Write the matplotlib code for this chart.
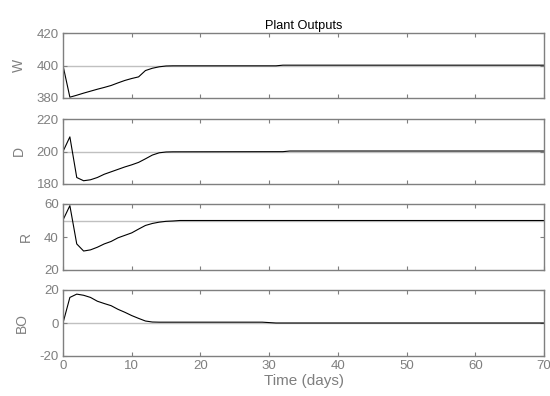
import matplotlib
matplotlib.use('Agg')
from matplotlib import pyplot as plt

plt.rcParams['font.family'] = ['Liberation Sans', 'DejaVu Sans']
plt.rcParams['axes.unicode_minus'] = False

# Plant output trajectories, read day by day
t_w = [0, 1, 2, 3, 4, 5, 6, 7, 8, 9, 10, 11, 12, 13, 14, 15, 16, 31, 32, 70]
w = [400, 380.5, 381.7, 383, 384.2, 385.4, 386.5, 387.7, 389.3, 390.8, 392, 393,
     396.9, 398.3, 399.2, 399.7, 399.8, 399.8, 400.2, 400.2]

t_d = [0, 1, 2, 3, 4, 5, 6, 7, 8, 9, 10, 11, 12, 13, 14, 15, 16, 32, 33, 70]
d = [200, 209, 184, 182, 182.6, 184, 186, 187.5, 189, 190.5, 191.8, 193.3,
     195.5, 197.8, 199.2, 199.7, 199.8, 199.9, 200.3, 200.3]

t_r = [0, 1, 2, 3, 4, 5, 6, 7, 8, 9, 10, 11, 12, 13, 14, 15, 16, 17, 70]
r = [50.3, 59, 35.8, 31.5, 32.2, 33.8, 35.8, 37.3, 39.5, 41, 42.5, 44.8,
     47, 48.2, 49, 49.5, 49.7, 50, 50]

t_bo = [0, 1, 2, 3, 4, 5, 6, 7, 8, 9, 10, 11, 12, 13, 14, 29, 31, 70]
bo = [0, 15.5, 17.5, 16.8, 15.5, 13.2, 11.8, 10.5, 8.3, 6.5, 4.5, 2.8,
      1.2, 0.6, 0.5, 0.5, 0, 0]

labels = ['W', 'D', 'R', 'BO']
setpoints = [400, 200, 50, 0]
yticks = [[380, 400, 420], [180, 200, 220], [20, 40, 60], [-20, 0, 20]]
series = [(t_w, w), (t_d, d), (t_r, r), (t_bo, bo)]

fig = plt.figure(figsize=(5.5, 3.96), dpi=100)
gray = '#7f7f7f'
tops = [33, 119, 204, 290]
bottoms = [98, 184, 270, 356]

for i in range(4):
    ax = fig.add_axes([63 / 550, 1 - bottoms[i] / 396, 481 / 550,
                       (bottoms[i] - tops[i]) / 396])
    ax.axhline(setpoints[i], color='#c0c0c0', lw=1.0, zorder=1)
    ax.plot(series[i][0], series[i][1], color='black', lw=0.8, zorder=2)
    ax.set_xlim(0, 70)
    ax.set_ylim(yticks[i][0], yticks[i][-1])
    ax.set_yticks(yticks[i])
    ax.set_xticks(range(0, 71, 10))
    ax.tick_params(direction='in', length=3, width=0.8, colors=gray,
                   labelsize=9.5, top=True, right=True, pad=3)
    for s in ax.spines.values():
        s.set_color(gray)
        s.set_linewidth(1.0)
    ax.set_ylabel(labels[i], color=gray, fontsize=10, labelpad=8)
    if i < 3:
        ax.set_xticklabels([])
    else:
        ax.set_xlabel('Time (days)', color=gray, fontsize=11, labelpad=1)
    if i == 0:
        ax.set_title('Plant Outputs', fontsize=9.2, pad=3)

fig.savefig('out.png', dpi=100)
